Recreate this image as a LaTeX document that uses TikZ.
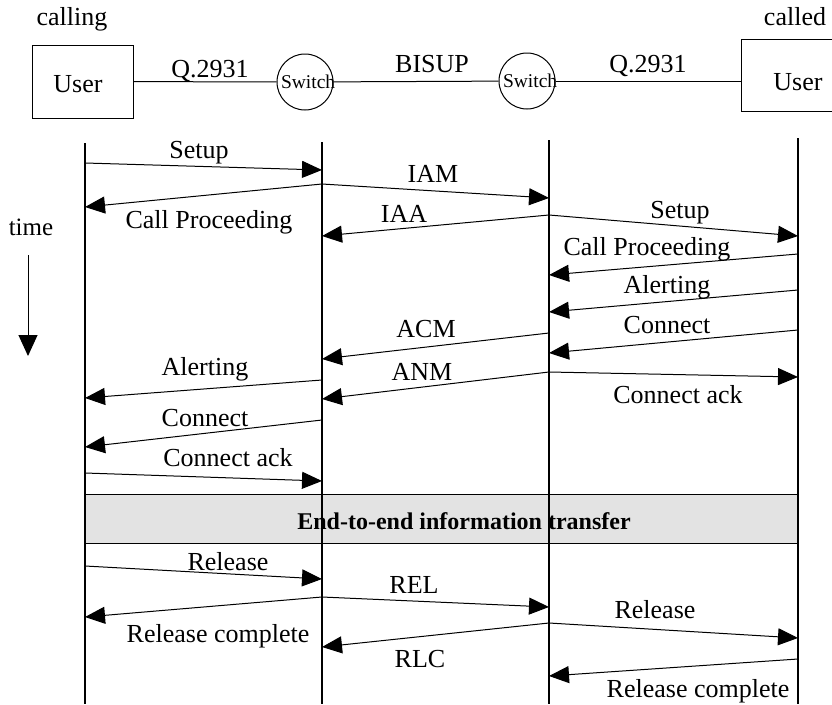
\documentclass[tikz,border=0pt]{standalone}
\usepackage{fontspec}
\setmainfont{Liberation Serif}
\usetikzlibrary{arrows.meta}
\begin{document}
\begin{tikzpicture}[x=1pt,y=-1pt,
  lbl/.style={anchor=base, inner sep=0pt, font=\fontsize{26}{30}\selectfont},
  msg/.style={line width=1pt, -{Triangle[length=20pt,width=17pt]}},
  life/.style={line width=1.2pt},
  wire/.style={line width=1pt},
  ubox/.style={draw, line width=1pt, inner sep=0pt},
  sw/.style={draw, circle, line width=1pt, minimum size=56pt, inner sep=0pt, font=\fontsize{19.5}{22}\selectfont},
]
\useasboundingbox (0,0) rectangle (832,704);
\clip (0,0) rectangle (832,704);

% ---- top: entities
\node[lbl] (calling) at (72,25) {calling};
\node[lbl] (called) at (795,25) {called};
\node[ubox, minimum width=101pt, minimum height=73pt] (uL) at (82.5,81.5) {};
\node[lbl] (uLt) at (78,92) {User};
\node[ubox, minimum width=100pt, minimum height=72pt] (uR) at (791,75) {};
\node[lbl] (uRt) at (798,90) {User};
\node[sw] (s1) at (305,82) {\makebox[48pt][l]{Switch}};
\node[sw] (s2) at (527,81) {\makebox[48pt][l]{Switch}};
\draw[wire] (uL) -- (s1);
\draw[wire] (s1) -- (s2);
\draw[wire] (s2) -- (s2 -| uR.west);
\node[lbl] (q1) at (210,77) {Q.2931};
\node[lbl] (bisup) at (432,72) {BISUP};
\node[lbl] (q2) at (648,72) {Q.2931};

% ---- time arrow
\node[lbl, font=\fontsize{25}{30}\selectfont] (time) at (31,235) {time};
\coordinate (t1) at (28,255);
\coordinate (t2) at (28,356);
\draw[line width=1pt, -{Triangle[length=21pt,width=19pt]}] (t1) -- (t2);

% ---- shaded band
\node[draw, line width=1pt, fill=gray!22, anchor=north west, inner sep=0pt,
      minimum width=713pt, minimum height=49pt] (band) at (85,494) {};
\node[lbl, font=\bfseries\fontsize{24}{28}\selectfont] (bandt) at (464,529) {End-to-end information transfer};

% ---- lifelines
\coordinate (l1) at (85,143);  \coordinate (l1b) at (85,704);
\coordinate (l2) at (322,142); \coordinate (l2b) at (322,704);
\coordinate (l3) at (549,140); \coordinate (l3b) at (549,704);
\coordinate (l4) at (798,138); \coordinate (l4b) at (798,704);
\draw[life] (l1) -- (l1b);
\draw[life] (l2) -- (l2b);
\draw[life] (l3) -- (l3b);
\draw[life] (l4) -- (l4b);

% ---- messages
\draw[msg] (l1|-0,163) -- (l2|-0,170);
\node[lbl] (m1) at (199,158) {Setup};
\draw[msg] (l2|-0,184) -- (l3|-0,198);
\node[lbl] (m2) at (433,182) {IAM};
\draw[msg] (l2|-0,184) -- (l1|-0,207);
\node[lbl] (m3) at (209,228) {Call Proceeding};
\draw[msg] (l3|-0,215) -- (l2|-0,236);
\node[lbl] (m4) at (404,222) {IAA};
\draw[msg] (l3|-0,215) -- (l4|-0,236);
\node[lbl] (m5) at (680,218) {Setup};
\draw[msg] (l4|-0,254) -- (l3|-0,275);
\node[lbl] (m6) at (647,255) {Call Proceeding};
\draw[msg] (l4|-0,290) -- (l3|-0,312);
\node[lbl] (m7) at (667,293) {Alerting};
\draw[msg] (l4|-0,330) -- (l3|-0,353);
\node[lbl] (m8) at (667,333) {Connect};
\draw[msg] (l3|-0,333) -- (l2|-0,359);
\node[lbl] (m9) at (426,337) {ACM};
\draw[msg] (l3|-0,372) -- (l2|-0,399);
\node[lbl] (m10) at (422,380) {ANM};
\draw[msg] (l3|-0,372) -- (l4|-0,377);
\node[lbl] (m11) at (678,403) {Connect ack};
\draw[msg] (l2|-0,380) -- (l1|-0,398);
\node[lbl] (m12) at (205,375) {Alerting};
\draw[msg] (l2|-0,420) -- (l1|-0,447);
\node[lbl] (m13) at (205,426) {Connect};
\draw[msg] (l1|-0,473) -- (l2|-0,481);
\node[lbl] (m14) at (228,466) {Connect ack};

\draw[msg] (l1|-0,566) -- (l2|-0,579);
\node[lbl] (m16) at (228,570) {Release};
\draw[msg] (l2|-0,597) -- (l3|-0,607);
\node[lbl] (m17) at (414,593) {REL};
\draw[msg] (l2|-0,597) -- (l1|-0,617);
\node[lbl] (m18) at (218,642) {Release complete};
\draw[msg] (l3|-0,623) -- (l4|-0,638);
\node[lbl] (m19) at (655,618) {Release};
\draw[msg] (l3|-0,623) -- (l2|-0,647);
\node[lbl] (m20) at (420,667) {RLC};
\draw[msg] (l4|-0,659) -- (l3|-0,676);
\node[lbl] (m21) at (698,697) {Release complete};
\end{tikzpicture}
\end{document}
